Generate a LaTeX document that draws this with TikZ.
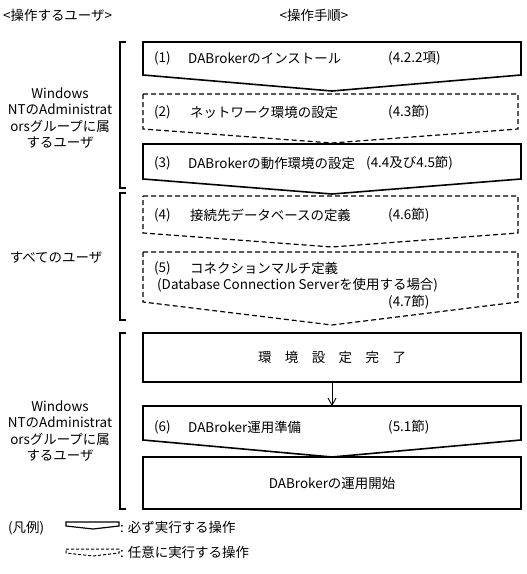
\documentclass[tikz,border=0pt]{standalone}
\usepackage{fontspec}
\setmainfont{Noto Sans CJK JP}
\usetikzlibrary{arrows.meta}

\tikzset{
  mustbox/.style={draw=black, line width=1.6bp, line join=miter},
  optbox/.style={draw=black, line width=1.2bp, dash pattern=on 5bp off 3bp},
  brk/.style={draw=black, line width=1.8bp},
  txt/.style={inner sep=0pt, font=\fontsize{13.5}{16.5}\selectfont},
  lbl/.style={txt, anchor=west},
  usr/.style={txt, align=center},
}

\begin{document}
\begin{tikzpicture}[x=1bp, y=-1bp]

    \useasboundingbox (0,0) rectangle (527,574);

    % Headings
    \node[lbl] (hdusr) at (3,15) {<操作するユーザ>};
    \node[txt] (hdstep) at (314,15) {<操作手順>};

    % Users
    \node[usr] (usr1) at (60,118) {Windows\\NTのAdministrat\\orsグループに属\\するユーザ};
    \node[usr] (usr2) at (56,258) {すべてのユーザ};
    \node[usr] (usr3) at (60,431) {Windows\\NTのAdministrat\\orsグループに属\\するユーザ};

    %% Brackets
    \draw[brk] (126,42) -- (120,42) -- (120,188) -- (126,188);
    \draw[brk] (126,193) -- (120,193) -- (120,320) -- (126,320);
    \draw[brk] (126,333) -- (120,333) -- (120,509) -- (126,509);

    % Step 1
    \draw[mustbox] (143,42) -- (521,42) -- (521,75) -- (332,91) -- (143,75) -- cycle;
    \node[lbl] (s1n) at (154,58) {(1)};
    \node[lbl] (s1) at (188,58) {DABrokerのインストール};
    \node[lbl] (s1r) at (388,58) {(4.2.2項)};

    % Step 2
    \draw[optbox] (143,94) -- (518,94) -- (518,129) -- (332,143) -- (143,129) -- cycle;
    \node[lbl] (s2n) at (154,112) {(2)};
    \node[lbl] (s2) at (190,112) {ネットワーク環境の設定};
    \node[lbl] (s2r) at (388,112) {(4.3節)};

    % Step 3
    \draw[mustbox] (143,144) -- (521,144) -- (521,179) -- (332,194) -- (143,179) -- cycle;
    \node[lbl] (s3n) at (154,163) {(3)};
    \node[lbl] (s3) at (188,163) {DABrokerの動作環境の設定};
    \node[lbl] (s3r) at (366,163) {(4.4及び4.5節)};

    % Step 4
    \draw[optbox] (143,196) -- (518,196) -- (518,233) -- (332,247) -- (143,233) -- cycle;
    \node[lbl] (s4n) at (154,215) {(4)};
    \node[lbl] (s4) at (190,215) {接続先データベースの定義};
    \node[lbl] (s4r) at (388,215) {(4.6節)};

    % Step 5
    \draw[optbox] (143,252) -- (518,252) -- (518,302) -- (332,325) -- (143,302) -- cycle;
    \node[lbl] (s5n) at (154,268) {(5)};
    \node[lbl] (s5) at (190,268) {コネクションマルチ定義};
    \node[lbl] (s5a) at (157,285) {(Database Connection Serverを使用する場合)};
    \node[lbl] (s5r) at (388,302) {(4.7節)};

    % Setup finished
    \node[mustbox, txt, minimum width=378bp, minimum height=49bp] (ready) at (332,357.5)
      {環\quad 境\quad 設\quad 定\quad 完\quad 了};

    % Step 6
    \draw[mustbox] (143,406) -- (521,406) -- (521,440) -- (332,457) -- (143,440) -- cycle;
    \coordinate (s6top) at (332,406);
    \node[lbl] (s6n) at (154,427) {(6)};
    \node[lbl] (s6) at (188,427) {DABroker運用準備};
    \node[lbl] (s6r) at (388,427) {(5.1節)};

    \draw[line width=0.9bp, -{Straight Barb[length=7bp, width=8bp]}] (ready.south) -- (s6top);

    % Start
    \node[mustbox, txt, minimum width=378bp, minimum height=52bp] (start) at (332,483)
      {DABrokerの運用開始};

    % Legend
    \node[lbl] (lgd) at (8,528) {(凡例)};
    \draw[mustbox, line width=1.2bp] (66,522) -- (119,522) -- (119,526) -- (93,529) -- (66,526) -- cycle;
    \node[lbl] (lgd1) at (120,527) {: 必ず実行する操作};
    \draw[optbox, line width=1bp, dash pattern=on 3bp off 2bp] (66,549) -- (119,549) -- (119,553) -- (93,556) -- (66,553) -- cycle;
    \node[lbl] (lgd2) at (120,552) {: 任意に実行する操作};

\end{tikzpicture}
\end{document}
